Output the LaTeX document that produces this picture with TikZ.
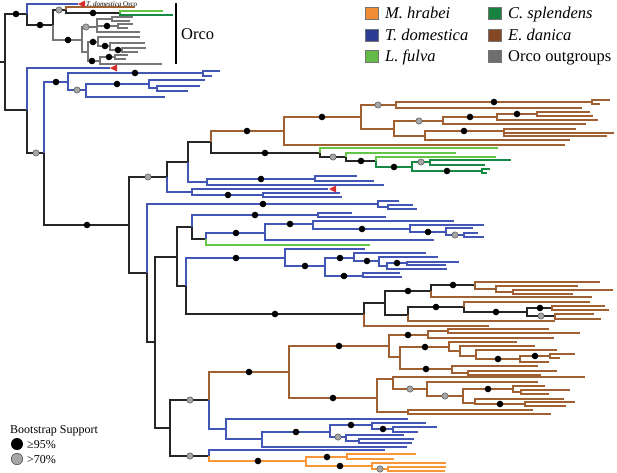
\documentclass[tikz,border=0pt]{standalone}
\usepackage{fontspec}
\setmainfont{Liberation Serif}

\definecolor{tdblue}{RGB}{66,86,182}
\definecolor{edbrown}{RGB}{160,96,50}
\definecolor{mhorange}{RGB}{248,150,56}
\definecolor{lfgreen}{RGB}{100,198,70}
\definecolor{csgreen}{RGB}{22,138,66}
\definecolor{oggray}{RGB}{118,118,118}
\definecolor{trired}{RGB}{215,45,45}
\definecolor{sqorange}{RGB}{242,140,50}
\definecolor{sqblue}{RGB}{42,60,150}
\definecolor{sqlgreen}{RGB}{100,186,70}
\definecolor{sqdgreen}{RGB}{24,130,64}
\definecolor{sqbrown}{RGB}{132,72,36}
\definecolor{sqgray}{RGB}{110,110,110}

\tikzset{
  tree/.style={line width=1.05pt},
  bk/.style={tree, draw=black!85},
  bl/.style={tree, draw=tdblue},
  br/.style={tree, draw=edbrown},
  og/.style={tree, draw=mhorange},
  lg/.style={tree, draw=lfgreen},
  dg/.style={tree, draw=csgreen},
  gy/.style={tree, draw=oggray},
  sq/.style={draw=black!55, line width=0.4pt},
  lgd/.style={anchor=base west, inner sep=0pt, font=\fontsize{16.5}{19}\selectfont},
  small/.style={anchor=base west, inner sep=0pt, font=\fontsize{12}{14}\selectfont},
}
\newcommand{\hisup}[2]{\fill[black] (#1,#2) circle (3.3pt);}
\newcommand{\losup}[2]{\filldraw[fill=black!35, draw=black!75, line width=0.4pt] (#1,#2) circle (3.2pt);}
\newcommand{\redmark}[2]{\fill[trired] (#1,#2) -- ++(7,-3.5) -- ++(0,7) -- cycle;}

\begin{document}
\begin{tikzpicture}[x=1pt,y=-1pt]
   \useasboundingbox (0,0) rectangle (617,472);

   % backbone
   \draw[bk] (0,62) -- (5,62) (5,62) |- (27,14) (5,62) |- (27,110)
      (27,14) |- (53,25) (53,25) |- (66,10) (66,10) |- (120,13)
      (27,110) |- (44,153) (44,153) |- (129,225)
      (129,225) |- (167,177) (167,177) |- (188,162) (188,162) |- (211,142)
      (211,142) |- (320,153) (320,153) |- (346,157) (346,157) |- (376,161)
      (129,225) |- (147,273) (147,273) |- (155,342)
      (155,342) |- (177,257) (155,342) |- (170,428)
      (177,257) |- (192,227) (177,257) |- (186,286)
      (192,227) |- (206,239) (186,286) |- (364,314)
      (364,314) |- (385,303) (385,303) |- (431,291) (385,303) |- (408,315)
      (431,291) |- (475,285) (408,315) |- (464,307) (464,307) |- (527,312)
      (527,312) |- (552,308) (527,312) |- (555,316)
      (170,428) |- (209,400) (170,428) |- (209,456);

   % Orco outgroups
   \draw[gy] (53,25) |- (82,40)
      (82,40) |- (97,27) (82,40) |- (88,52)
      (97,27) |- (112,19) (97,27) |- (118,26) (97,27) |- (140,32)
      (112,19) |- (133,17) (112,19) |- (130,21)
      (118,26) |- (133,24) (118,26) |- (128,28)
      (88,52) |- (98,42) (88,52) |- (100,61)
      (98,42) |- (140,37) (98,42) |- (110,46)
      (110,46) |- (145,43) (110,46) |- (122,50)
      (122,50) |- (146,48) (122,50) |- (138,52)
      (100,61) |- (115,57) (100,61) |- (162,64)
      (115,57) |- (128,55) (115,57) |- (126,59);
   \draw[br] (66,10) |- (135,7);
   \draw[lg] (120,13) |- (163,11);
   \draw[dg] (120,13) |- (173,15);

   % T. domestica
   \draw[bl] (27,14) |- (78,4) (27,110) |- (110,68)
      (44,153) |- (68,82)
      (68,82) |- (203,73) (68,82) |- (86,90)
      (203,73) |- (220,71) (203,73) |- (212,76)
      (86,90) |- (149,84) (86,90) |- (165,97)
      (149,84) |- (205,80) (149,84) |- (157,88)
      (157,88) |- (200,86) (157,88) |- (188,91)
      (188,162) |- (207,182)
      (207,182) |- (315,179) (207,182) |- (384,185)
      (315,179) |- (357,176) (315,179) |- (374,181)
      (167,177) |- (192,192)
      (192,192) |- (328,189) (192,192) |- (263,195)
      (263,195) |- (340,193) (263,195) |- (342,197)
      (147,273) |- (378,204)
      (378,204) |- (399,201) (378,204) |- (388,207)
      (388,207) |- (413,205) (388,207) |- (417,209)
      (192,227) |- (318,215)
      (318,215) |- (352,213) (318,215) |- (386,217)
      (206,239) |- (265,233)
      (265,233) |- (313,224) (265,233) |- (434,240)
      (313,224) |- (454,221) (313,224) |- (410,229)
      (410,229) |- (484,225) (410,229) |- (446,232)
      (446,232) |- (473,228) (446,232) |- (464,235)
      (464,235) |- (478,233) (464,235) |- (484,237)
      (186,286) |- (285,258)
      (285,258) |- (365,249) (285,258) |- (325,266)
      (325,266) |- (354,258) (325,266) |- (363,276)
      (354,258) |- (426,253) (354,258) |- (379,261)
      (379,261) |- (438,257) (379,261) |- (387,266)
      (387,266) |- (407,263) (387,266) |- (447,269)
      (407,263) |- (459,262) (407,263) |- (446,265)
      (363,276) |- (400,273) (363,276) |- (402,277)
      (209,400) |- (226,429)
      (226,429) |- (408,419) (226,429) |- (262,439)
      (262,439) |- (330,432) (262,439) |- (407,447)
      (330,432) |- (372,425) (330,432) |- (346,437)
      (372,425) |- (426,423) (372,425) |- (393,429)
      (393,429) |- (437,427) (393,429) |- (418,432)
      (346,437) |- (404,435) (346,437) |- (359,441)
      (359,441) |- (414,439) (359,441) |- (412,443)
      (209,456) |- (385,450);

   % E. danica
   \draw[br] (211,142) |- (284,131)
      (284,131) |- (361,117) (284,131) |- (565,145)
      (361,117) |- (396,105) (361,117) |- (394,129)
      (396,105) |- (592,102) (396,105) |- (582,108)
      (592,102) |- (610,100) (592,102) |- (600,104)
      (394,129) |- (443,121) (394,129) |- (425,136)
      (443,121) |- (497,117) (443,121) |- (586,124)
      (497,117) |- (537,114) (497,117) |- (598,120)
      (537,114) |- (590,112) (537,114) |- (593,116)
      (425,136) |- (504,131) (425,136) |- (570,140)
      (504,131) |- (576,129) (504,131) |- (614,133) (504,131) |- (607,136)
      (364,314) |- (489,326) (431,291) |- (592,297)
      (475,285) |- (600,282) (475,285) |- (496,289)
      (496,289) |- (578,286) (496,289) |- (513,292)
      (513,292) |- (613,290) (513,292) |- (573,294)
      (408,315) |- (555,321) (464,307) |- (590,302)
      (552,308) |- (605,306) (552,308) |- (609,310)
      (555,316) |- (594,314) (555,316) |- (601,319)
      (209,400) |- (289,372)
      (289,372) |- (389,346) (289,372) |- (377,398)
      (389,346) |- (428,335) (389,346) |- (400,357)
      (428,335) |- (448,331) (428,335) |- (554,338)
      (448,331) |- (549,329) (448,331) |- (580,333)
      (400,357) |- (449,347) (400,357) |- (452,369)
      (449,347) |- (517,342) (449,347) |- (460,351)
      (460,351) |- (535,346) (460,351) |- (476,356)
      (476,356) |- (557,350) (476,356) |- (520,359)
      (520,359) |- (550,356) (520,359) |- (549,362)
      (550,356) |- (575,354) (550,356) |- (560,358)
      (452,369) |- (538,366) (452,369) |- (468,373)
      (468,373) |- (557,371) (468,373) |- (541,375)
      (377,398) |- (393,379) (377,398) |- (408,412)
      (393,379) |- (585,377) (393,379) |- (427,389)
      (427,389) |- (538,382) (427,389) |- (463,396)
      (463,396) |- (513,389) (463,396) |- (475,403)
      (513,389) |- (545,386) (513,389) |- (521,392)
      (521,392) |- (570,390) (521,392) |- (549,394)
      (475,403) |- (564,399) (475,403) |- (525,404)
      (525,404) |- (575,402) (525,404) |- (566,406)
      (408,412) |- (533,410) (408,412) |- (551,414);

   % L. fulva and C. splendens
   \draw[lg] (320,153) |- (498,148) (346,157) |- (456,153)
      (376,161) |- (496,157) (206,239) |- (370,245);
   \draw[dg] (376,161) |- (412,167)
      (412,167) |- (430,162) (412,167) |- (482,171)
      (430,162) |- (511,160) (430,162) |- (485,165)
      (482,171) |- (490,169) (482,171) |- (487,173);

   % M. hrabei
   \draw[og] (209,456) |- (306,461)
      (306,461) |- (347,457) (306,461) |- (372,466)
      (347,457) |- (416,454) (347,457) |- (394,459)
      (372,466) |- (446,463) (372,466) |- (388,469)
      (388,469) |- (446,467) (388,469) |- (445,471);

   % support values
   \hisup{16}{14} \hisup{40}{25} \hisup{93}{13} \hisup{68}{40}
   \hisup{107}{26} \hisup{93}{42} \hisup{105}{46} \hisup{118}{50}
   \hisup{92}{61} \hisup{109}{57} \hisup{56}{82} \hisup{135}{73}
   \hisup{117}{84} \hisup{87}{225} \hisup{247}{131} \hisup{265}{153}
   \hisup{322}{117} \hisup{494}{102} \hisup{470}{117} \hisup{517}{114}
   \hisup{464}{131} \hisup{361}{161} \hisup{394}{167} \hisup{447}{171}
   \hisup{261}{179} \hisup{228}{195} \hisup{263}{204} \hisup{255}{215}
   \hisup{236}{233} \hisup{290}{224} \hisup{362}{229} \hisup{428}{232}
   \hisup{236}{258} \hisup{305}{266} \hisup{340}{258} \hisup{367}{261}
   \hisup{397}{263} \hisup{344}{276} \hisup{275}{314} \hisup{408}{291}
   \hisup{453}{285} \hisup{436}{307} \hisup{496}{312} \hisup{540}{308}
   \hisup{249}{372} \hisup{339}{346} \hisup{333}{398} \hisup{408}{335}
   \hisup{425}{347} \hisup{498}{359} \hisup{535}{356} \hisup{426}{369}
   \hisup{488}{389} \hisup{500}{404} \hisup{296}{432} \hisup{351}{425}
   \hisup{383}{429} \hisup{258}{461} \hisup{327}{457} \hisup{340}{466}

   \losup{59}{10} \losup{86}{27} \losup{77}{90} \losup{36}{153}
   \losup{148}{177} \losup{378}{105} \losup{419}{121} \losup{333}{157}
   \losup{421}{162} \losup{455}{235} \losup{541}{316} \losup{190}{400}
   \losup{190}{456} \losup{338}{437} \losup{380}{469} \losup{410}{389}
   \losup{445}{396}

   % Orco triangles and labels
   \redmark{78}{4} \redmark{110}{68} \redmark{329}{189}
   \node[anchor=base west, inner sep=0pt, font=\fontsize{7}{8}\selectfont] (tdorco) at (86,6.5) {\textit{T. domestica} Orco};
   \draw[line width=2.6pt] (176,3) -- (176,64);
   \node[lgd] (orco) at (181,39) {Orco};

   % species key
   \filldraw[sq, fill=sqorange] (365,7) rectangle (378,19);
   \filldraw[sq, fill=sqblue] (365,29) rectangle (378,41);
   \filldraw[sq, fill=sqlgreen] (365,50) rectangle (378,62);
   \filldraw[sq, fill=sqdgreen] (488,7) rectangle (501,19);
   \filldraw[sq, fill=sqbrown] (488,29) rectangle (501,41);
   \filldraw[sq, fill=sqgray] (488,50) rectangle (501,62);
   \node[lgd] (mhr) at (385,18) {\textit{M. hrabei}};
   \node[lgd] (tdo) at (385,40) {\textit{T. domestica}};
   \node[lgd] (lfu) at (385,61) {\textit{L. fulva}};
   \node[lgd] (csp) at (508,18) {\textit{C. splendens}};
   \node[lgd] (eda) at (508,40) {\textit{E. danica}};
   \node[lgd] (oog) at (508,61) {Orco outgroups};

   % bootstrap key
   \node[small] (bskey) at (10,433) {Bootstrap Support};
   \fill[black] (17,444) circle (6pt);
   \filldraw[fill=black!35, draw=black!75, line width=0.5pt] (17,459) circle (5.7pt);
   \node[small] (hikey) at (27,448) {≥95\%};
   \node[small] (lokey) at (27,463) {>70\%};
\end{tikzpicture}
\end{document}
